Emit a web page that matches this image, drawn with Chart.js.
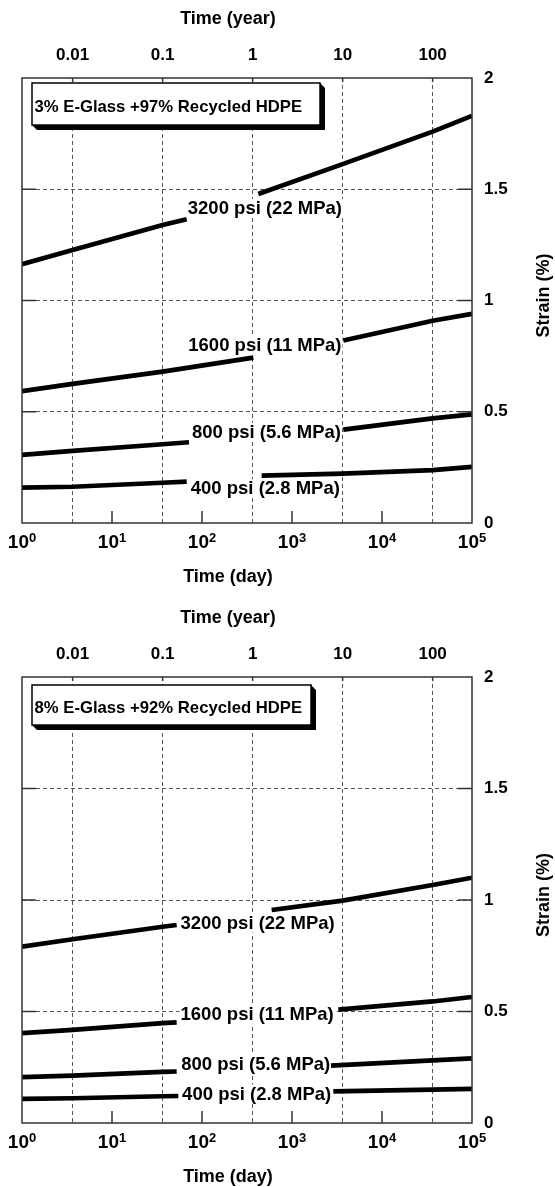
<!DOCTYPE html>
<html>
<head>
<meta charset="utf-8">
<script src="https://cdn.jsdelivr.net/npm/chart.js@4.4.0/dist/chart.umd.min.js"></script>
<style>
  html, body { margin: 0; padding: 0; background: #fff; }
  body { width: 555px; height: 1187px; position: relative; overflow: hidden; }
  .panel { position: absolute; left: 0; width: 555px; }
  #panelTop { top: 0; height: 599px; }
  #panelBottom { top: 599px; height: 588px; }
</style>
</head>
<body>
<div class="panel" id="panelTop"><canvas id="chartTop" width="555" height="599"></canvas></div>
<div class="panel" id="panelBottom"><canvas id="chartBottom" width="555" height="588"></canvas></div>
<script>
// ===== axis ticks =====
const dayTicks = [1, 10, 100, 1000, 10000, 100000];
const dayPowers = ['0', '1', '2', '3', '4', '5'];
const yearTicks = [0.01, 0.1, 1, 10, 100];
const strainTicks = [0, 0.5, 1, 1.5, 2];
const stressLabels = ['3200 psi (22 MPa)', '1600 psi (11 MPa)', '800 psi (5.6 MPa)', '400 psi (2.8 MPa)'];

// ===== 3% E-Glass + 97% Recycled HDPE (null = break under the label) =====
const g3Days3200 = [1, 3.65, 36.5, 67.6, 170, 422, 3652, 36525, 100000];
const g3Strain3200 = [1.163, 1.227, 1.339, 1.365, null, 1.479, 1.613, 1.759, 1.830];
const g3Days1600 = [1, 3.65, 36.5, 372, 1500, 3715, 36525, 100000];
const g3Strain1600 = [0.593, 0.625, 0.680, 0.743, null, 0.820, 0.909, 0.940];
const g3Days800 = [1, 3.65, 36.5, 71.7, 600, 3715, 36525, 100000];
const g3Strain800 = [0.306, 0.324, 0.354, 0.363, null, 0.420, 0.470, 0.488];
const g3Days400 = [1, 3.65, 36.5, 67.6, 180, 460, 3652, 36525, 100000];
const g3Strain400 = [0.159, 0.163, 0.181, 0.186, null, 0.213, 0.222, 0.238, 0.252];

// ===== 8% E-Glass + 92% Recycled HDPE =====
const g8Days3200 = [1, 3.65, 36.5, 52.3, 170, 594, 3652, 36525, 100000];
const g8Strain3200 = [0.791, 0.824, 0.880, 0.888, null, 0.955, 0.997, 1.067, 1.100];
const g8Days1600 = [1, 3.65, 36.5, 52.3, 500, 3273, 36525, 100000];
const g8Strain1600 = [0.403, 0.418, 0.448, 0.451, null, 0.508, 0.545, 0.565];
const g8Days800 = [1, 3.65, 36.5, 52.3, 500, 2710, 36525, 100000];
const g8Strain800 = [0.206, 0.212, 0.229, 0.231, null, 0.257, 0.281, 0.290];
const g8Days400 = [1, 3.65, 36.5, 54.6, 500, 2878, 36525, 100000];
const g8Strain400 = [0.108, 0.111, 0.120, 0.121, null, 0.142, 0.150, 0.153];

const FONT = '"Liberation Sans", Arial, Helvetica, sans-serif';
const PLOT_LEFT = 22;
const PLOT_RIGHT = 472;
const PLOT_TOP = 78;
const GRID_COLOR = '#555';

const panels = [
    {
        canvas: 'chartTop',
        plotBottom: 523,
        boxText: '3% E-Glass +97% Recycled HDPE',
        box: { x: 32, dy: 5, w: 288, h: 42 },
        days: [g3Days3200, g3Days1600, g3Days800, g3Days400],
        strains: [g3Strain3200, g3Strain1600, g3Strain800, g3Strain400],
        labelAt: [[500, 1.416], [500, 0.80], [520, 0.41], [505, 0.156]]
    },
    {
        canvas: 'chartBottom',
        plotBottom: 524,
        boxText: '8% E-Glass +92% Recycled HDPE',
        box: { x: 32, dy: 8, w: 279, h: 40 },
        days: [g8Days3200, g8Days1600, g8Days800, g8Days400],
        strains: [g8Strain3200, g8Strain1600, g8Strain800, g8Strain400],
        labelAt: [[415, 0.899], [410, 0.49], [395, 0.266], [405, 0.132]]
    }
];

function line(ctx, x1, y1, x2, y2) {
    ctx.beginPath();
    ctx.moveTo(x1, y1);
    ctx.lineTo(x2, y2);
    ctx.stroke();
}

// ==================== DECORATION PLUGIN ====================
const framePlugin = {
    id: 'frame',
    beforeDatasetsDraw(chart, args, opts) {
        // white backing behind the curve labels hides the grid there
        const ctx = chart.ctx;
        const sx = chart.scales.x, sy = chart.scales.y;
        ctx.save();
        ctx.font = 'bold 18.5px ' + FONT;
        ctx.fillStyle = '#fff';
        stressLabels.forEach((t, i) => {
            const x = sx.getPixelForValue(opts.labelAt[i][0]);
            const y = sy.getPixelForValue(opts.labelAt[i][1]);
            const w = ctx.measureText(t).width;
            ctx.fillRect(x - w / 2 - 1, y - 9, w + 2, 19);
        });
        ctx.restore();
    },
    afterDraw(chart, args, opts) {
        const ctx = chart.ctx;
        const a = chart.chartArea;
        const sx = chart.scales.x, sy = chart.scales.y, st = chart.scales.xTop;
        ctx.save();

        // inward ticks
        ctx.strokeStyle = '#333';
        ctx.lineWidth = 1.5;
        dayTicks.slice(1, -1).forEach(v => {
            const x = sx.getPixelForValue(v);
            line(ctx, x, a.bottom, x, a.bottom - 12);
        });
        yearTicks.forEach(v => {
            const x = st.getPixelForValue(v);
            line(ctx, x, a.top, x, a.top + 4);
        });
        strainTicks.slice(1, -1).forEach(v => {
            const y = sy.getPixelForValue(v);
            line(ctx, a.left, y, a.left + 14, y);
            line(ctx, a.right, y, a.right - 14, y);
        });
        ctx.strokeRect(a.left, a.top, a.right - a.left, a.bottom - a.top);

        // bottom tick labels 10^n
        ctx.fillStyle = '#000';
        ctx.textBaseline = 'middle';
        ctx.textAlign = 'left';
        dayTicks.forEach((v, i) => {
            const x = sx.getPixelForValue(v);
            ctx.font = 'bold 19px ' + FONT;
            const wb = ctx.measureText('10').width;
            ctx.font = 'bold 13px ' + FONT;
            const ws = ctx.measureText(dayPowers[i]).width;
            const x0 = x - (wb + ws) / 2;
            ctx.font = 'bold 19px ' + FONT;
            ctx.fillText('10', x0, a.bottom + 20);
            ctx.font = 'bold 13px ' + FONT;
            ctx.fillText(dayPowers[i], x0 + wb, a.bottom + 15);
        });

        // axis titles
        ctx.font = 'bold 18px ' + FONT;
        ctx.textAlign = 'center';
        ctx.fillText('Time (year)', 228, 19);
        ctx.fillText('Time (day)', 228, a.bottom + 54);
        ctx.save();
        ctx.translate(544, (a.top + a.bottom) / 2 - 5);
        ctx.rotate(-Math.PI / 2);
        ctx.fillText('Strain (%)', 0, 0);
        ctx.restore();

        // material box with shadow
        const b = opts.box;
        const bx = b.x, by = a.top + b.dy, d = 5;
        ctx.fillStyle = '#000';
        ctx.beginPath();
        ctx.moveTo(bx + b.w, by);
        ctx.lineTo(bx + b.w + d, by + d);
        ctx.lineTo(bx + b.w + d, by + b.h + d);
        ctx.lineTo(bx + d, by + b.h + d);
        ctx.lineTo(bx, by + b.h);
        ctx.lineTo(bx + b.w, by + b.h);
        ctx.closePath();
        ctx.fill();
        ctx.fillStyle = '#fff';
        ctx.fillRect(bx, by, b.w, b.h);
        ctx.strokeStyle = '#000';
        ctx.lineWidth = 1.5;
        ctx.strokeRect(bx, by, b.w, b.h);
        ctx.fillStyle = '#000';
        ctx.font = 'bold 16.7px ' + FONT;
        ctx.textAlign = 'left';
        ctx.fillText(opts.boxText, bx + 2.5, by + b.h / 2 + 3);

        // curve labels
        ctx.font = 'bold 18.5px ' + FONT;
        ctx.textAlign = 'center';
        stressLabels.forEach((t, i) => {
            const x = sx.getPixelForValue(opts.labelAt[i][0]);
            const y = sy.getPixelForValue(opts.labelAt[i][1]);
            ctx.fillText(t, x, y + 1);
        });
        ctx.restore();
    }
};

// ==================== CHARTS ====================
function makeChart(p) {
    const canvas = document.getElementById(p.canvas);
    const datasets = p.days.map((days, s) => ({
        label: stressLabels[s],
        data: days.map((d, i) => ({ x: d, y: p.strains[s][i] })),
        borderColor: '#000',
        borderWidth: 4.7,
        pointRadius: 0,
        tension: 0,
        fill: false,
        spanGaps: false,
        xAxisID: 'x',
        yAxisID: 'y'
    }));

    return new Chart(canvas, {
        type: 'line',
        data: { datasets: datasets },
        options: {
            responsive: false,
            animation: false,
            devicePixelRatio: 1,
            layout: { padding: { left: PLOT_LEFT, right: 0, top: 0, bottom: 0 } },
            plugins: {
                legend: { display: false },
                tooltip: { enabled: false },
                frame: { box: p.box, boxText: p.boxText, labelAt: p.labelAt }
            },
            scales: {
                x: {
                    type: 'logarithmic',
                    position: 'bottom',
                    min: dayTicks[0],
                    max: dayTicks[dayTicks.length - 1],
                    grid: { display: false },
                    border: { display: false },
                    ticks: { display: false },
                    afterFit: s => { s.height = s.chart.height - p.plotBottom; }
                },
                xTop: {
                    type: 'logarithmic',
                    position: 'top',
                    min: dayTicks[0] / 365.25,
                    max: dayTicks[dayTicks.length - 1] / 365.25,
                    afterBuildTicks: s => { s.ticks = yearTicks.map(v => ({ value: v })); },
                    grid: { display: true, drawTicks: false, color: GRID_COLOR, lineWidth: 1 },
                    border: { display: false, dash: [4, 3] },
                    ticks: {
                        autoSkip: false,
                        maxRotation: 0,
                        padding: 12,
                        color: '#000',
                        font: { family: FONT, size: 17, weight: 'bold' },
                        callback: v => String(v)
                    },
                    afterFit: s => { s.height = PLOT_TOP; }
                },
                y: {
                    type: 'linear',
                    position: 'right',
                    min: strainTicks[0],
                    max: strainTicks[strainTicks.length - 1],
                    afterBuildTicks: s => { s.ticks = strainTicks.map(v => ({ value: v })); },
                    grid: {
                        drawTicks: false,
                        lineWidth: 1,
                        color: c => (c.tick && (c.tick.value === 0 || c.tick.value === 2)) ? 'rgba(0,0,0,0)' : GRID_COLOR
                    },
                    border: { display: false, dash: [4, 3] },
                    ticks: {
                        padding: 12,
                        color: '#000',
                        font: { family: FONT, size: 17, weight: 'bold' },
                        callback: v => String(v)
                    },
                    afterFit: s => { s.width = 555 - PLOT_RIGHT; }
                }
            }
        },
        plugins: [framePlugin]
    });
}

window.addEventListener('load', () => {
    panels.forEach(makeChart);
});
</script>
</body>
</html>
